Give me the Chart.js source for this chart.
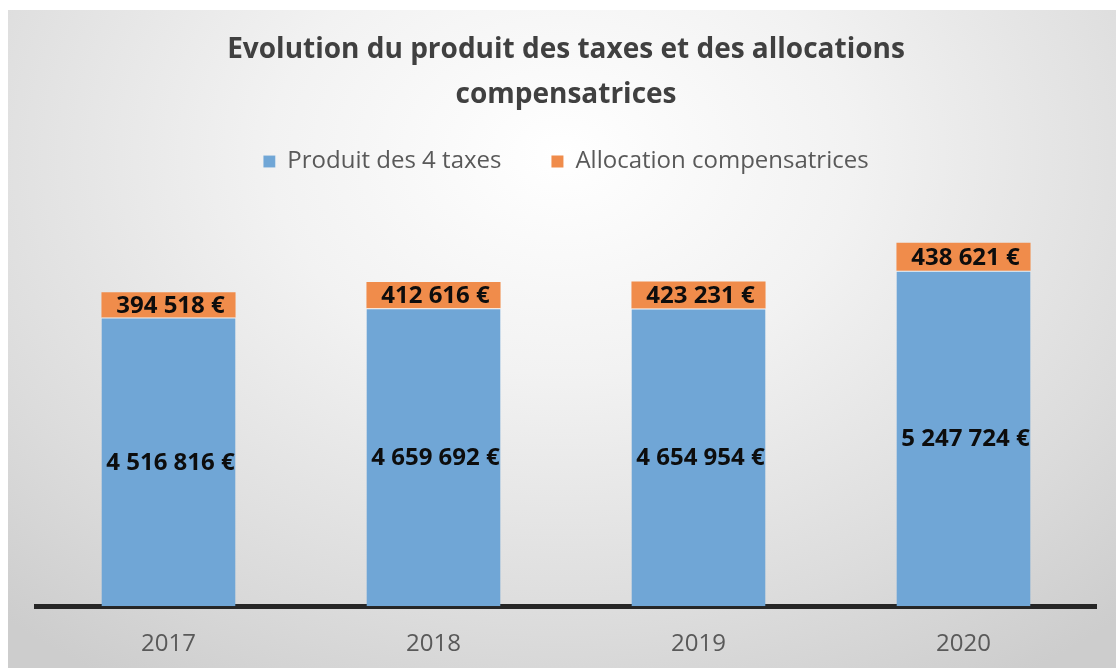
<!DOCTYPE html>
<html>
<head>
<meta charset="utf-8">
<script src="https://cdn.jsdelivr.net/npm/chart.js@4"></script>
<style>
  html, body { margin: 0; padding: 0; background: #fff; overflow: hidden; }
  #wrap {
    position: absolute; left: 8px; top: 10px; width: 1108px; height: 658px; overflow: hidden;
    background: radial-gradient(ellipse 75% 95% at 50% 22%, #ffffff 0%, #f2f2f2 35%, #dcdcdc 75%, #cdcdcd 100%);
  }
</style>
</head>
<body>
<div id="wrap"><canvas id="myChart" width="1108" height="673"></canvas></div>
<script>
// data
var years = ['2017', '2018', '2019', '2020'];
var produitTaxes = [4516816, 4659692, 4654954, 5247724];
var allocations = [394518, 412616, 423231, 438621];

function euro(v) {
  return String(v).replace(/\B(?=(\d{3})+(?!\d))/g, ' ') + ' €';
}

// value labels centred in each segment
var segLabels = {
  id: 'segLabels',
  afterDatasetsDraw: function (chart) {
    var ctx = chart.ctx;
    ctx.save();
    ctx.font = 'bold 24px "Open Sans"';
    ctx.fillStyle = '#0d0d0d';
    ctx.textAlign = 'center';
    ctx.textBaseline = 'middle';
    chart.data.datasets.forEach(function (ds, i) {
      chart.getDatasetMeta(i).data.forEach(function (bar, j) {
        var p = bar.getProps(['x', 'y', 'base'], true);
        ctx.fillText(euro(ds.data[j]), p.x + 2, (p.y + p.base) / 2 + 1);
      });
    });
    ctx.restore();
  }
};

// extra room under the legend
var legendGap = {
  id: 'legendGap',
  beforeInit: function (chart) {
    var fit = chart.legend.fit;
    chart.legend.fit = function () {
      fit.bind(chart.legend)();
      this.height += 39;
    };
  }
};

var ctx = document.getElementById('myChart').getContext('2d');
var chart = new Chart(ctx, {
  type: 'bar',
  data: {
    labels: years,
    datasets: [{
      label: 'Produit des 4 taxes',
      backgroundColor: 'rgb(112,166,214)',
      borderColor: 'rgba(255,255,255,0.6)',
      borderWidth: { top: 1 },
      data: produitTaxes
    }, {
      label: 'Allocation compensatrices',
      backgroundColor: 'rgb(240,140,75)',
      data: allocations
    }]
  },
  options: {
    responsive: false,
    animation: false,
    layout: { padding: { left: 28, right: 20, bottom: 0 } },
    datasets: { bar: { categoryPercentage: 1, barPercentage: 0.506 } },
    scales: {
      x: {
        stacked: true,
        grid: { display: false, drawTicks: false },
        border: { color: '#262626', width: 5 },
        ticks: { color: '#595959', font: { family: 'Open Sans', size: 24 }, padding: 24 }
      },
      y: {
        stacked: true,
        display: false,
        min: 0,
        max: 6000000
      }
    },
    plugins: {
      title: {
        display: true,
        text: ['Evolution du produit des taxes et des allocations', 'compensatrices'],
        color: '#404040',
        font: { family: 'Open Sans', size: 28, weight: 'bold', lineHeight: 1.6 },
        padding: { top: 18, bottom: -18 }
      },
      legend: {
        labels: {
          color: '#595959',
          font: { family: 'Open Sans', size: 24 },
          boxWidth: 12, boxHeight: 12, padding: 50
        }
      },
      tooltip: { enabled: false }
    }
  },
  plugins: [segLabels, legendGap]
});
</script>
</body>
</html>
